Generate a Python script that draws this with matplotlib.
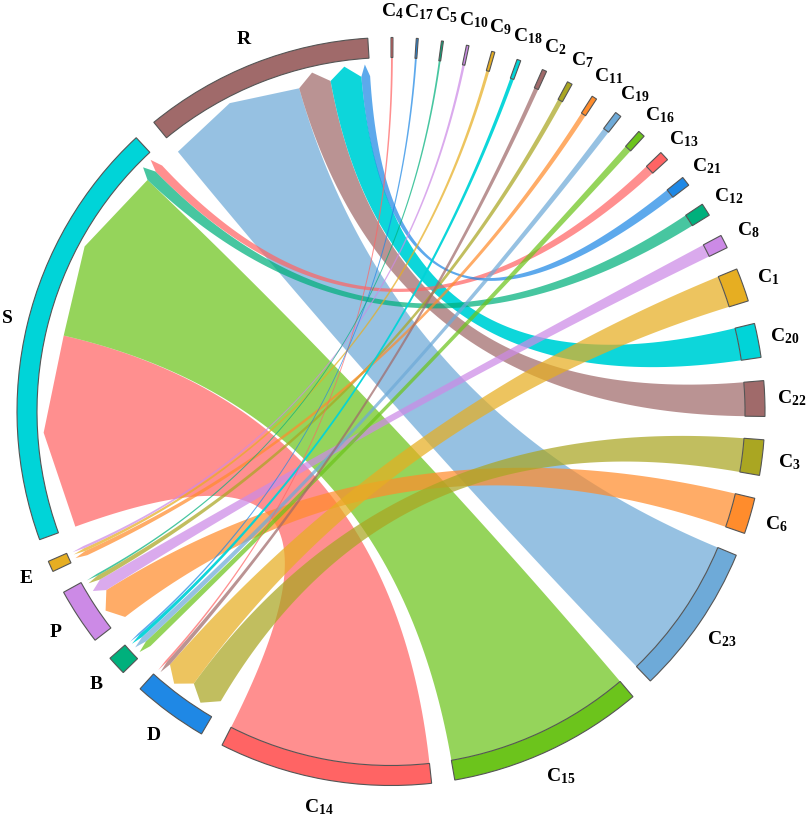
import numpy as np
import matplotlib
matplotlib.use('Agg')
import matplotlib.pyplot as plt
from matplotlib.patches import Wedge, Polygon

plt.rcParams['font.family'] = 'Liberation Serif'
plt.rcParams['mathtext.fontset'] = 'custom'
plt.rcParams['mathtext.rm'] = 'Liberation Serif'
plt.rcParams['mathtext.bf'] = 'Liberation Serif:bold'

# one link per C node, listed clockwise from the top of the circle
sources = ['C4', 'C17', 'C5', 'C10', 'C9', 'C18', 'C2', 'C7', 'C11', 'C19', 'C16', 'C13',
           'C21', 'C12', 'C8', 'C1', 'C20', 'C22', 'C3', 'C6', 'C23', 'C15', 'C14']
targets = ['D', 'B', 'P', 'E', 'E', 'B', 'D', 'P', 'E', 'B', 'B', 'S',
           'R', 'S', 'P', 'D', 'R', 'R', 'D', 'P', 'R', 'S', 'S']
values = [0.3, 0.3, 0.3, 0.4, 0.5, 0.6, 0.7, 0.8, 0.8, 1.0, 1.1, 1.5,
          1.5, 2.0, 2.1, 5.2, 5.3, 5.5, 5.5, 5.6, 23.5, 30.5, 33.1]
target_order = ['D', 'B', 'P', 'E', 'S', 'R']

palette = ['#ff6464', '#1f88e5', '#00b07c', '#cc8ae6', '#e6ae22', '#00d4d8',
           '#a06a6a', '#aaa622', '#ff8c2c', '#6eaad8', '#6cc41c']
link_alpha = [0.72, 0.72, 0.72, 0.72, 0.72, 0.95, 0.72, 0.72, 0.72, 0.72, 0.72]

gap = 3.58
start = 90.0
r_out, r_in = 374, 354
r_corner, r_tip = 336, 348
r_label = 401

# sector layout
order = sources + target_order
width = dict(zip(sources, values))
for t in target_order:
    width[t] = sum(v for tt, v in zip(targets, values) if tt == t)
span = {}
color = {}
alpha = {}
a = start
for k, name in enumerate(order):
    span[name] = (a - width[name], a)
    color[name] = palette[k % len(palette)]
    alpha[name] = link_alpha[k % len(palette)]
    a -= width[name] + gap


def mid(name):
    lo, hi = span[name]
    return (lo + hi) / 2


# position of every link inside its target sector
tspan = {}
for t in target_order:
    inc = [i for i in range(len(sources)) if targets[i] == t]
    inc.sort(key=lambda i: -mid(sources[i]))
    a = span[t][0]
    for i in inc:
        tspan[i] = (a, a + values[i])
        a += values[i]


def pt(r, ang):
    ang = np.radians(ang)
    return np.array([r * np.cos(ang), r * np.sin(ang)])


def arc(r, a1, a2, n=40):
    ang = np.radians(np.linspace(a1, a2, n))
    return np.column_stack([r * np.cos(ang), r * np.sin(ang)])


def bez(p0, p2, n=80):
    t = np.linspace(0, 1, n)[:, None]
    return (1 - t) ** 2 * p0 + t ** 2 * p2


fig = plt.figure(figsize=(8.09, 8.20), dpi=100)
ax = fig.add_axes([0, 0, 1, 1])
ax.set_xlim(-391, 418)
ax.set_ylim(-407.5, 412.5)
ax.axis('off')

# links, biggest first
for i in sorted(range(len(sources)), key=lambda i: -values[i]):
    a_lo, a_hi = span[sources[i]]
    b_lo, b_hi = tspan[i]
    pts = np.vstack([
        arc(r_in, a_lo, a_hi),
        bez(pt(r_in, a_hi), pt(r_corner, b_lo)),
        [pt(r_tip, (b_lo + b_hi) / 2)],
        bez(pt(r_corner, b_hi), pt(r_in, a_lo)),
    ])
    ax.add_patch(Polygon(pts, closed=True, facecolor=color[sources[i]],
                         alpha=alpha[sources[i]], lw=0, zorder=2))

# sector boxes and labels
for name in order:
    lo, hi = span[name]
    ax.add_patch(Wedge((0, 0), r_out, lo, hi, width=r_out - r_in,
                       facecolor=color[name], edgecolor='#555555', lw=0.8, zorder=3))
    if name.startswith('C'):
        txt = r'$\mathbf{C_{%s}}$' % name[1:]
    else:
        txt = r'$\mathbf{%s}$' % name
    x, y = pt(r_label, mid(name))
    x = max(x, -384)  # keep the left label inside the figure
    ax.text(x, y, txt, ha='center', va='center', fontsize=14)

fig.savefig('out.png', dpi=100)
